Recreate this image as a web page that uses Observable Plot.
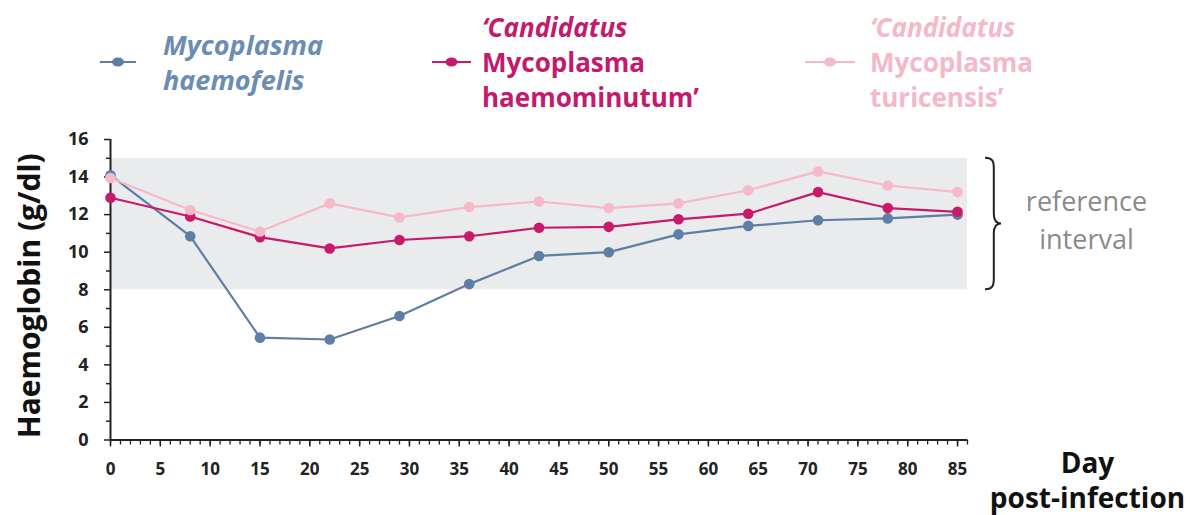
<!DOCTYPE html>
<html>
<head>
<meta charset="utf-8">
<script src="https://cdn.jsdelivr.net/npm/d3@7"></script>
<script src="https://cdn.jsdelivr.net/npm/@observablehq/plot@0.6"></script>
<style>
  html, body { margin: 0; padding: 0; background: #fff; }
  #wrap { position: relative; width: 1199px; height: 515px; font-family: "Open Sans", Lato, sans-serif; }
  #wrap svg.plot { position: absolute; left: 0; top: 0; }
  .leg { position: absolute; font-weight: bold; font-size: 26px; line-height: 35px; white-space: nowrap; }
</style>
</head>
<body>
<div id="wrap"></div>
<script>
// ---- data ----
const days = [0, 8, 15, 22, 29, 36, 43, 50, 57, 64, 71, 78, 85];
const haemofelis   = [14.1, 10.85, 5.45, 5.35, 6.6, 8.3, 9.8, 10.0, 10.95, 11.4, 11.7, 11.8, 12.0];
const haemominutum = [12.9, 11.9, 10.8, 10.2, 10.65, 10.85, 11.3, 11.35, 11.75, 12.05, 13.2, 12.35, 12.15];
const turicensis   = [13.95, 12.25, 11.1, 12.6, 11.85, 12.4, 12.7, 12.35, 12.6, 13.3, 14.3, 13.55, 13.2];
const referenceInterval = [8, 15];
const xTickLabels = [0, 5, 10, 15, 20, 25, 30, 35, 40, 45, 50, 55, 60, 65, 70, 75, 80, 85];
const yTickLabels = [0, 2, 4, 6, 8, 10, 12, 14, 16];
const legendLines = [
  ["Mycoplasma", "haemofelis"],
  ["\u2018Candidatus", "Mycoplasma", "haemominutum\u2019"],
  ["\u2018Candidatus", "Mycoplasma", "turicensis\u2019"]
];
const yLabel = "Haemoglobin (g/dl)";
const xLabel = "Day\npost-infection";
const refLabel = "reference\ninterval";

// ---- styles ----
const colors = ["#5d7ea5", "#c8196b", "#f6b9c9"];
const textColors = ["#6b8cb3", "#c41a6b", "#f5b8c7"];
const seriesData = [haemofelis, haemominutum, turicensis].map(vals => days.map((d, i) => ({day: d, hb: vals[i]})));

const brace = (index, scales, values, dims) => {
  const g = d3.create("svg:g");
  const x0 = dims.width - dims.marginRight + 18;
  const yt = scales.y(referenceInterval[1]), yb = scales.y(referenceInterval[0]);
  const ym = (yt + yb) / 2, w = 16;
  const p = `M${x0},${yt} C${x0 + w * 0.6},${yt} ${x0 + w * 0.55},${yt + 6} ${x0 + w * 0.55},${yt + 14}
    L${x0 + w * 0.55},${ym - 10} C${x0 + w * 0.55},${ym - 3} ${x0 + w * 0.7},${ym} ${x0 + w},${ym}
    C${x0 + w * 0.7},${ym} ${x0 + w * 0.55},${ym + 3} ${x0 + w * 0.55},${ym + 10}
    L${x0 + w * 0.55},${yb - 14} C${x0 + w * 0.55},${yb - 6} ${x0 + w * 0.6},${yb} ${x0},${yb}`;
  g.append("path").attr("d", p).attr("fill", "none").attr("stroke", "#222").attr("stroke-width", 2);
  return g.node();
};

const lineMarks = [];
seriesData.forEach((data, k) => {
  lineMarks.push(Plot.line(data, {x: "day", y: "hb", stroke: colors[k], strokeWidth: 2.2}));
  lineMarks.push(Plot.dot(data, {x: "day", y: "hb", fill: colors[k], r: 5.3}));
});

const chart = Plot.plot({
  width: 1199,
  height: 515,
  marginLeft: 110,
  marginRight: 232,
  marginTop: 139,
  marginBottom: 75.5,
  style: {fontFamily: "'Open Sans', Lato, sans-serif", background: "transparent", overflow: "visible"},
  x: {domain: [0, 86]},
  y: {domain: [0, 16]},
  marks: [
    Plot.rect([referenceInterval], {x1: 0, x2: 86, y1: d => d[0], y2: d => d[1], fill: "#eaebec"}),
    Plot.axisY({ticks: d3.range(1, 16, 2), tickSize: 4, tickFormat: () => "", label: null, stroke: "#222", strokeWidth: 1.5}),
    Plot.axisY({ticks: yTickLabels, tickSize: 6, tickPadding: 16, label: null, fontSize: 18, fontWeight: "bold", stroke: "#222", strokeWidth: 1.5, fill: "#222"}),
    Plot.axisX({ticks: d3.range(0, 87), tickSize: 5, tickFormat: () => "", label: null, stroke: "#222", strokeWidth: 1.3}),
    Plot.axisX({ticks: xTickLabels, tickSize: 7, tickPadding: 16, label: null, fontSize: 17, fontWeight: "bold", stroke: "#222", strokeWidth: 1.5, fill: "#222"}),
    Plot.ruleX([0], {stroke: "#222", strokeWidth: 2}),
    Plot.ruleY([0], {stroke: "#222", strokeWidth: 2}),
    ...lineMarks,
    brace,
    Plot.text([refLabel], {x: 86, y: 11.5, dx: 119, dy: -6, text: d => d, fontSize: 27, fill: "#8a8a8a", lineHeight: 1.4}),
    Plot.text([xLabel], {x: 86, y: 0, dx: 120, dy: 39, text: d => d, fontSize: 28, fontWeight: "bold", fill: "#111", lineHeight: 1.27}),
    Plot.text([yLabel], {frameAnchor: "left", textAnchor: "middle", rotate: -90, dx: -80, dy: 6, text: d => d, fontSize: 30, fontWeight: "bold", fill: "#111"})
  ]
});
chart.classList.add("plot");
const wrap = document.getElementById("wrap");
wrap.appendChild(chart);

// ---- legend (HTML overlay) ----
const legendPos = [
  {lx: 100, lw: 36, tx: 163, top: 27, italic: [true, true], size: 27},
  {lx: 432, lw: 39, tx: 482, top: 10, italic: [true, false, false], size: 26},
  {lx: 805, lw: 50, tx: 870, top: 10, italic: [true, false, false], size: 26}
];
legendLines.forEach((lines, k) => {
  const pos = legendPos[k];
  const sw = d3.select(wrap).append("svg")
    .attr("width", pos.lw).attr("height", 14)
    .style("position", "absolute").style("left", pos.lx + "px").style("top", "55px");
  sw.append("line").attr("x1", 0).attr("x2", pos.lw).attr("y1", 7).attr("y2", 7)
    .attr("stroke", colors[k]).attr("stroke-width", 2.2);
  sw.append("ellipse").attr("cx", pos.lw / 2).attr("cy", 7).attr("rx", 6).attr("ry", 4.5).attr("fill", colors[k]);
  const div = d3.select(wrap).append("div").attr("class", "leg")
    .style("left", pos.tx + "px").style("top", pos.top + "px").style("font-size", pos.size + "px").style("color", textColors[k]);
  lines.forEach((t, i) => {
    div.append("div").text(t).style("font-style", pos.italic[i] ? "italic" : "normal");
  });
});
</script>
</body>
</html>
